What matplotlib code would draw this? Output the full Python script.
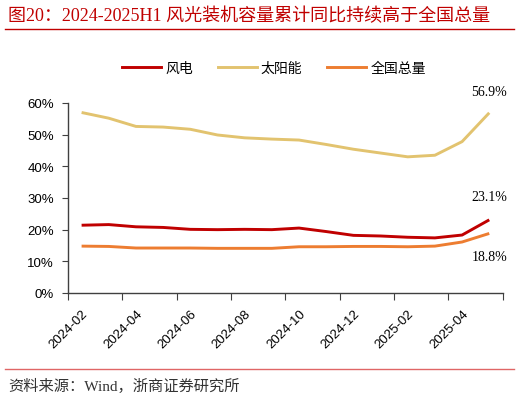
import matplotlib
matplotlib.use("Agg")
import matplotlib.pyplot as plt
from matplotlib.lines import Line2D

plt.rcParams['font.family'] = ['Liberation Sans', 'Noto Sans CJK SC', 'DejaVu Sans']

# ---------- Данные ----------
months = ["2024-02", "2024-03", "2024-04", "2024-05", "2024-06", "2024-07",
          "2024-08", "2024-09", "2024-10", "2024-11", "2024-12", "2025-01",
          "2025-02", "2025-03", "2025-04", "2025-05"]
wind = [21.4, 21.6, 20.9, 20.7, 20.1, 20.0, 20.1, 20.0, 20.5, 19.4,
        18.2, 18.0, 17.6, 17.4, 18.3, 23.1]
solar = [57.0, 55.2, 52.6, 52.4, 51.7, 49.9, 49.0, 48.6, 48.3, 46.9,
         45.4, 44.2, 43.0, 43.5, 47.8, 56.9]
total = [14.8, 14.7, 14.2, 14.2, 14.2, 14.1, 14.1, 14.1, 14.6, 14.6,
         14.7, 14.7, 14.6, 14.8, 16.1, 18.8]
names = ["风电", "太阳能", "全国总量"]
colors = ["#C00000", "#E2C36F", "#ED7D31"]

title = "图20：2024-2025H1 风光装机容量累计同比持续高于全国总量"
source = "资料来源：Wind，浙商证券研究所"

fig = plt.figure(figsize=(5.2, 4.02), dpi=100)
ax = fig.add_axes([0.1308, 0.2687, 0.967 - 0.1308, 0.7413 - 0.2687])

x = list(range(len(months)))
for ys, c, n in zip([wind, solar, total], colors, names):
    ax.plot(x, ys, color=c, linewidth=2.1, label=n, solid_capstyle="butt")

ax.set_xlim(-0.5, len(months) - 0.5)
ax.set_ylim(0, 60)
ax.set_yticks(range(0, 61, 10))
ax.set_yticklabels([f"{v}%" for v in range(0, 61, 10)], fontsize=9.5)

# тики между категориями, подписи через одну
ax.set_xticks([i - 0.5 for i in range(0, len(months) + 1, 2)])
ax.set_xticklabels([])
ax.set_xticks(list(range(0, len(months), 2)), minor=True)
ax.set_xticklabels(months[::2], minor=True, rotation=45, ha="right",
                   rotation_mode="anchor", fontsize=9.5)
ax.tick_params(axis="x", which="major", length=5, color="#404040")
ax.tick_params(axis="x", which="minor", length=0, pad=10)
ax.tick_params(axis="y", length=4, color="#404040", pad=6)

for s in ["top", "right"]:
    ax.spines[s].set_visible(False)
for s in ["left", "bottom"]:
    ax.spines[s].set_color("#404040")
    ax.spines[s].set_linewidth(1.0)

# подписи последних значений
last = len(months) - 1
ax.annotate(f"{solar[-1]}%", (last, solar[-1]), xytext=(0, 11), textcoords="offset points",
            ha="center", va="bottom", fontsize=10, family="Liberation Serif")
ax.annotate(f"{wind[-1]}%", (last, wind[-1]), xytext=(0, 12), textcoords="offset points",
            ha="center", va="bottom", fontsize=10, family="Liberation Serif")
ax.annotate(f"{total[-1]}%", (last, total[-1]), xytext=(0, -12), textcoords="offset points",
            ha="center", va="top", fontsize=10, family="Liberation Serif")

handles = [Line2D([], [], color=c, linewidth=2.1) for c in colors]
fig.legend(handles, names, loc="center", bbox_to_anchor=(274 / 520, 1 - 69 / 402), ncol=3,
           frameon=False, fontsize=10, handlelength=2.8, columnspacing=1.8, handletextpad=0.3)

fig.text(8 / 520, 1 - 16 / 402, title, color="#C00000", fontsize=13, va="center", ha="left",
         family=["Liberation Serif", "Noto Sans CJK SC"])
fig.add_artist(Line2D([5 / 520, 514 / 520], [1 - 30 / 402, 1 - 30 / 402], color="#C00000",
                      linewidth=1.0, transform=fig.transFigure))
fig.add_artist(Line2D([5 / 520, 514 / 520], [1 - 370 / 402, 1 - 370 / 402], color="#E06666",
                      linewidth=1.0, transform=fig.transFigure))
fig.text(8 / 520, 1 - 386 / 402, source, color="#333333", fontsize=11, va="center", ha="left",
         family=["Liberation Serif", "Noto Sans CJK SC"])

fig.savefig("out.png", dpi=100)
